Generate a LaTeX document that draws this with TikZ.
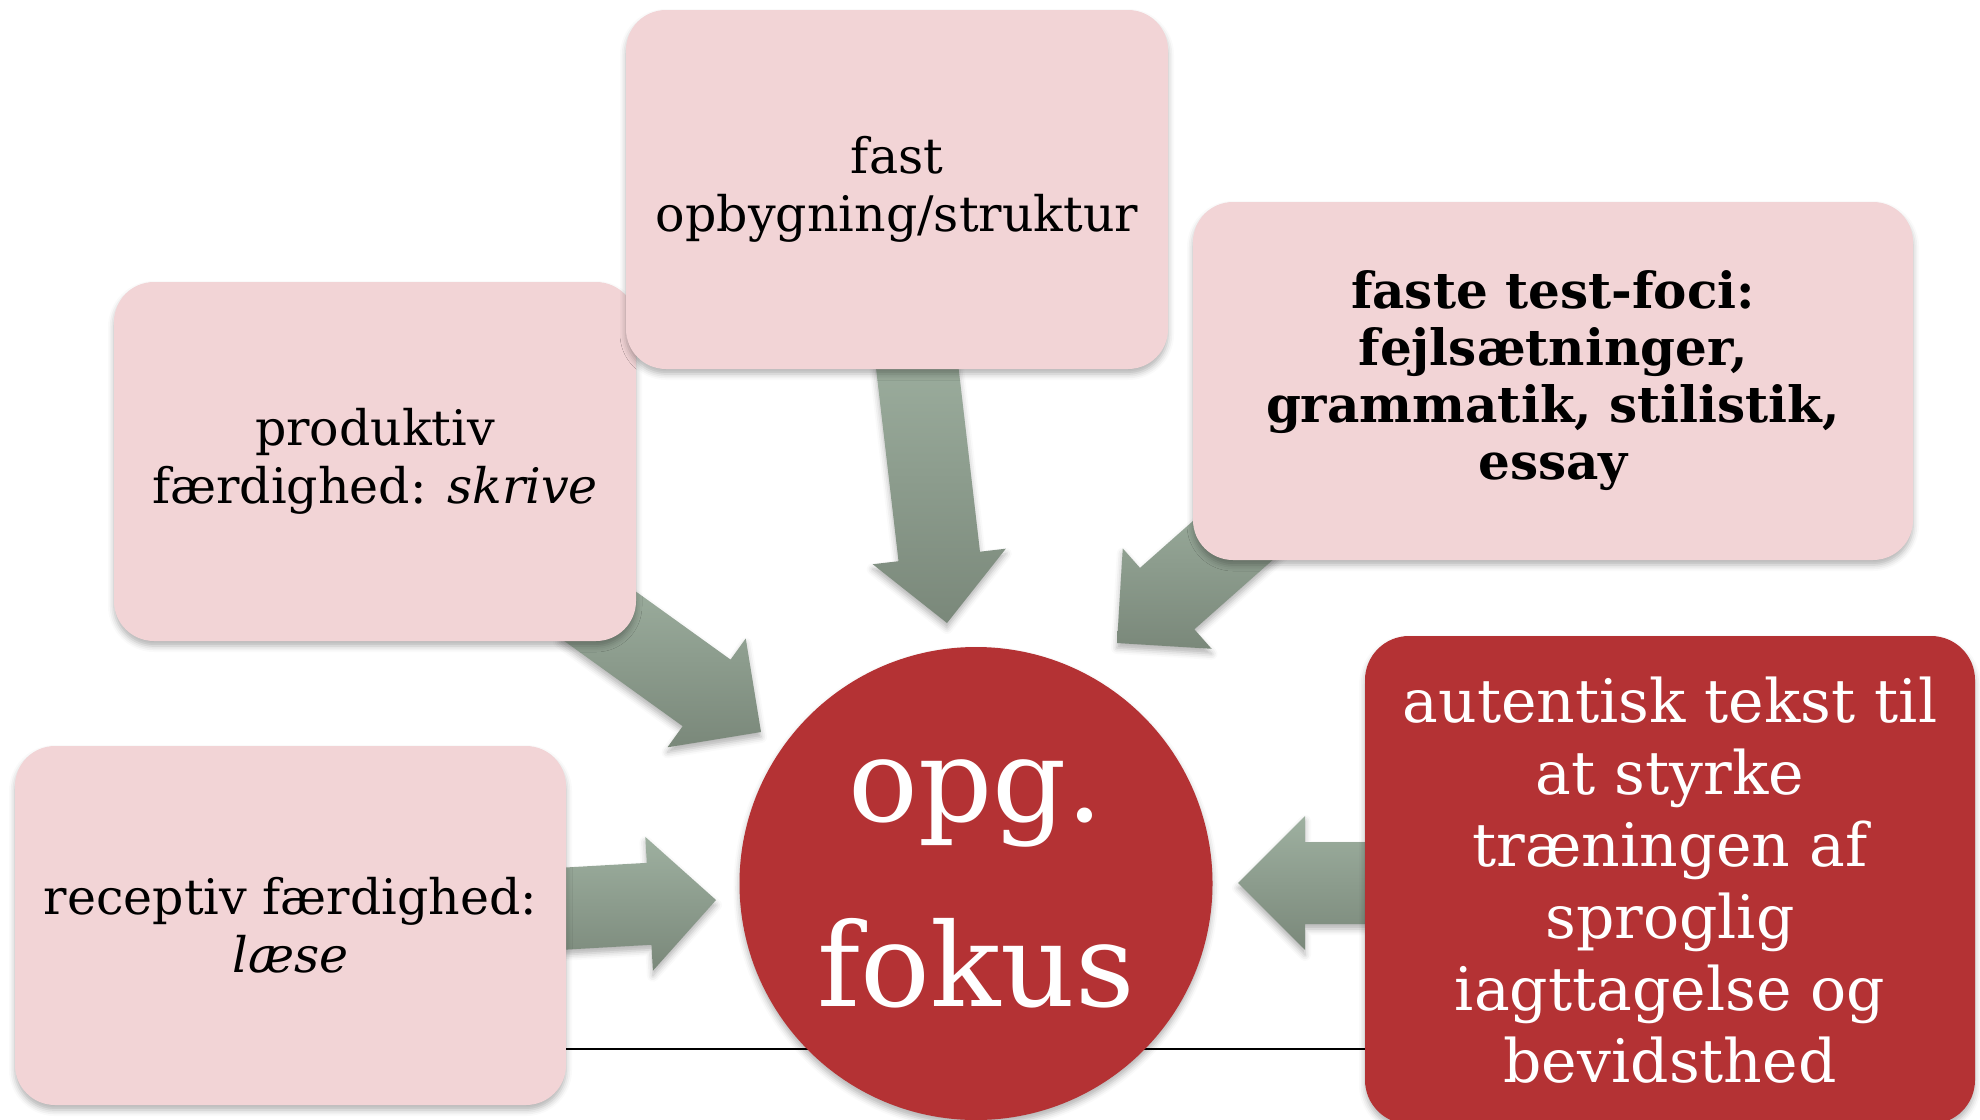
\documentclass[tikz,border=0pt]{standalone}
\usepackage{fontspec}
\setmainfont{DejaVu Serif}
\usepackage{tikz}
\usetikzlibrary{calc, shadows, shadows.blur}

\definecolor{boxpink}{RGB}{242,212,214}
\definecolor{boxred}{RGB}{180,50,52}
\definecolor{arrowtop}{RGB}{158,176,160}
\definecolor{arrowbot}{RGB}{122,136,122}

\tikzset{
  softshadow/.style={blur shadow={shadow xshift=0pt, shadow yshift=-2.5pt, shadow blur radius=3pt, shadow opacity=30}},
  pinkbox/.style={rectangle, rounded corners=20pt, fill=boxpink, align=center, inner sep=0pt,
    font=\fontsize{24.5pt}{29pt}\selectfont, softshadow},
  arrowfill/.style={top color=arrowtop, bottom color=arrowbot, softshadow},
}

% block arrow from #1 to #2 (shaft 41pt, head 67pt wide)
\newcommand{\fatarrow}[2]{%
  \coordinate (fa-n) at ($(#2)!33.5pt!(#1)$);
  \path[arrowfill] ($(#1)!20.5pt!90:(#2)$) -- ($(fa-n)!20.5pt!90:(#2)$) -- ($(fa-n)!33.5pt!90:(#2)$)
    -- (#2) -- ($(fa-n)!33.5pt!-90:(#2)$) -- ($(fa-n)!20.5pt!-90:(#2)$) -- ($(#1)!20.5pt!-90:(#2)$) -- cycle;
}

\begin{document}
\begin{tikzpicture}[x=0.5pt, y=-0.5pt]

	\useasboundingbox (0,0) rectangle (1980,1119);
	\clip (0,0) rectangle (1980,1119);

	\coordinate (rule-y) at (976,1049);

	\coordinate (s-receptiv) at (540,910);
	\coordinate (t-receptiv) at (716,900);
	\coordinate (s-produktiv) at (583,604);
	\coordinate (t-produktiv) at (761,732);
	\coordinate (s-struktur) at (914,340);
	\coordinate (t-struktur) at (947,623);
	\coordinate (s-testfoci) at (1265,512);
	\coordinate (t-testfoci) at (1117,643);
	\coordinate (s-autentisk) at (1390,883);
	\coordinate (t-autentisk) at (1238,883);

	% arrows
	\fatarrow{s-receptiv}{t-receptiv}
	\fatarrow{s-produktiv}{t-produktiv}
	\fatarrow{s-struktur}{t-struktur}
	\fatarrow{s-testfoci}{t-testfoci}
	\fatarrow{s-autentisk}{t-autentisk}

	% boxes
	\node[pinkbox, minimum width=275.5pt, minimum height=179.5pt] (receptiv) at (290.5,925.5)
		{receptiv færdighed:\\\textit{læse}};
	\node[pinkbox, fill=boxred, text=white, rounded corners=22pt, minimum width=305pt, minimum height=244pt,
		font=\fontsize{30pt}{36pt}\selectfont] (autentisk) at (1670,880)
		{autentisk tekst til\\at styrke\\træningen af\\sproglig\\iagttagelse og\\bevidsthed};
	\node[pinkbox, minimum width=261pt, minimum height=179.5pt] (produktiv) at (375,461.5)
		{produktiv\\færdighed: \textit{skrive}};
	\node[pinkbox, minimum width=271pt, minimum height=179.5pt] (struktur) at (897,189.5)
		{fast\\opbygning/struktur};
	\node[pinkbox, minimum width=360pt, minimum height=179pt, font=\fontsize{25pt}{28.5pt}\selectfont\bfseries] (testfoci) at (1553,381)
		{faste test-foci:\\fejlsætninger,\\grammatik, stilistik,\\essay};

	\draw[line width=0.75pt] (receptiv.east |- rule-y) -- (autentisk.west |- rule-y);

	\node[circle, fill=boxred, text=white, minimum size=236.5pt, inner sep=0pt, align=center,
		font=\fontsize{58pt}{92.5pt}\selectfont, softshadow] (fokus) at (976,883.5) {opg.\\fokus};

\end{tikzpicture}
\end{document}
